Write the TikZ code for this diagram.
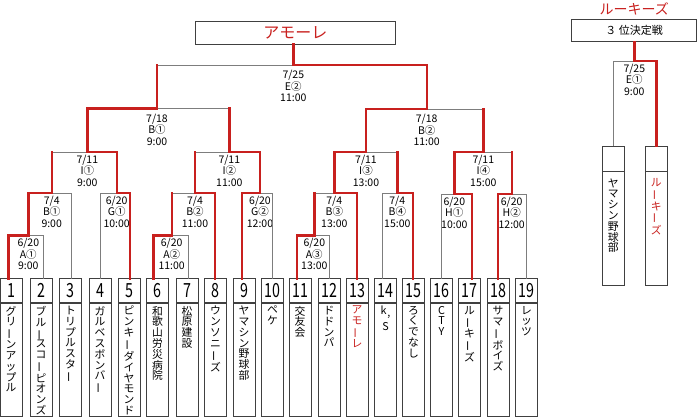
\documentclass[tikz,border=0pt]{standalone}
\usepackage{fontspec}
\setmainfont{Noto Sans CJK JP}
\usetikzlibrary{positioning}
\definecolor{wred}{RGB}{200,32,30}
\definecolor{lgray}{RGB}{125,125,125}
\newcommand{\cho}{\rotatebox[origin=c]{90}{ー}}

\begin{document}
\begin{tikzpicture}[x=1pt,y=-1pt,
  team/.style={draw=black!75,line width=.8pt,minimum width=22pt,minimum height=24pt,inner sep=0pt,font=\fontsize{15}{15}\selectfont},
  namebox/.style={draw=black!75,line width=.8pt,minimum width=22pt,minimum height=113.5pt,inner sep=0pt},
  vname/.style={align=center,inner sep=0pt,font=\fontsize{10.8}{10.8}\selectfont},
  lbl/.style={align=center,anchor=north,inner sep=2.5pt,font=\fontsize{10.5}{11.7}\selectfont},
  lblb/.style={lbl,inner ysep=5pt},
  win/.style={draw=wred,line width=2.4pt,line cap=rect},
  lose/.style={draw=lgray,line width=.9pt}]
  \useasboundingbox (0,0) rectangle (700,418);
  % teams
  \foreach \i/\x/\lx/\nm/\c in {
    1/11/8.3/{グ\\リ\\\cho\\ン\\ア\\ッ\\プ\\ル}/black,
    2/41/43.3/{ブ\\ル\\\cho\\ス\\コ\\\cho\\ピ\\オ\\ン\\ズ}/black,
    3/70.5/71.7/{ト\\リ\\プ\\ル\\ス\\タ\\\cho}/black,
    4/100/100/{ガ\\ル\\ベ\\ス\\ボ\\ン\\バ\\\cho}/black,
    5/129/130/{ピ\\ン\\キ\\\cho\\ダ\\イ\\ヤ\\モ\\ン\\ド}/black,
    6/157.5/153.3/{和\\歌\\山\\労\\災\\病\\院}/black,
    7/187/188.3/{松\\原\\建\\設}/black,
    8/215.5/215/{ウ\\ン\\ソ\\ニ\\\cho\\ズ}/black,
    9/244/241.7/{ヤ\\マ\\シ\\ン\\野\\球\\部}/black,
    10/272.5/272.7/{ペ\\ケ}/black,
    11/300/296.7/{交\\友\\会}/black,
    12/329/329.3/{ド\\ド\\ン\\パ}/black,
    13/357/356.7/{ア\\モ\\\cho\\レ}/wred,
    14/385.5/382.7/{k\hspace{1pt}\raisebox{-2pt}{,}\\[3pt]S}/black,
    15/413.5/412.7/{ろ\\く\\で\\な\\し}/black,
    16/441.5/441/{C\\T\\Y}/black,
    17/469.5/471.7/{ル\\\cho\\キ\\\cho\\ズ}/black,
    18/498/497.7/{サ\\マ\\\cho\\ボ\\イ\\ズ}/black,
    19/526.5/526.7/{レ\\ッ\\ツ}/black}{
    \node[team] (t\i) at (\x,290.5) {\scalebox{.95}[1.3]{\i}};
    \node[namebox,below=0pt of t\i] (nm\i) {};
    \node[vname,text=\c,below=3pt of t\i] (v\i) {\nm};
    \coordinate (p\i) at (\lx,278.5);
  }
  % champion and third place
  \node[draw=black!75,line width=.8pt,minimum width=200.7pt,minimum height=22.3pt,text=wred,font=\fontsize{16}{16}\selectfont] (champ) at (295.3,32.8) {アモーレ};
  \node[draw=black!75,line width=.8pt,minimum width=125pt,minimum height=22.4pt,font=\fontsize{11}{11}\selectfont] (third) at (634.2,30.5) {３ 位決定戦};
  \node[text=wred,font=\fontsize{14}{14}\selectfont] (thirdwin) at (634.3,8.5) {ルーキーズ};
  \node[team,minimum height=25pt] (q1) at (613.2,158.5) {};
  \node[namebox,minimum height=114pt,below=0pt of q1] (qn1) {};
  \node[vname,below=7pt of q1] (qv1) {ヤ\\マ\\シ\\ン\\野\\球\\部};
  \node[team,minimum height=25pt] (q2) at (656.3,158.5) {};
  \node[namebox,minimum height=114pt,below=0pt of q2] (qn2) {};
  \node[vname,text=wred,below=7pt of q2] (qv2) {ル\\\cho\\キ\\\cho\\ズ};
  % match labels
  \node[lbl] (A1) at (28.3,235.5) {6/20\\A①\\9:00};
  \node[lbl] (B1) at (51.7,193) {7/4\\B①\\9:00};
  \node[lbl] (G1) at (116.7,193) {6/20\\G①\\10:00};
  \node[lbl] (I1) at (87.3,152) {7/11\\I①\\9:00};
  \node[lbl] (A2) at (171.7,235.5) {6/20\\A②\\11:00};
  \node[lbl] (B2) at (195,193) {7/4\\B②\\11:00};
  \node[lbl] (G2) at (260,193) {6/20\\G②\\12:00};
  \node[lbl] (I2) at (229.3,152) {7/11\\I②\\11:00};
  \node[lblb] (S1) at (157,108.5) {7/18\\B①\\9:00};
  \node[lbl] (A3) at (314.3,235.5) {6/20\\A③\\13:00};
  \node[lbl] (B3) at (334.3,193) {7/4\\B③\\13:00};
  \node[lbl] (B4) at (397.3,193) {7/4\\B④\\15:00};
  \node[lbl] (I3) at (366,152) {7/11\\I③\\13:00};
  \node[lbl] (H1) at (454.3,194) {6/20\\H①\\10:00};
  \node[lbl] (H2) at (511.7,194) {6/20\\H②\\12:00};
  \node[lbl] (I4) at (483.3,152) {7/11\\I④\\15:00};
  \node[lblb] (S2) at (426.7,109) {7/18\\B②\\11:00};
  \node[lblb] (F) at (293.3,65) {7/25\\E②\\11:00};
  \node[lbl] (E1) at (634.3,61) {7/25\\E①\\9:00};
  % losing lines
  \draw[lose] (p2) |- (A1.north);
  \draw[lose] (p3) |- (B1.north);
  \draw[lose] (p4) |- (G1.north);
  \draw[lose] (B1.north |- I1.north) -- (I1.north);
  \draw[lose] (p7) |- (A2.north);
  \draw[lose] (A2.north |- B2.north) -- (B2.north);
  \draw[lose] (p10) |- (G2.north);
  \draw[lose] (B2.north |- I2.north) -- (I2.north);
  \draw[lose] (I2.north |- S1.north) -- (S1.north);
  \draw[lose] (p12) |- (A3.north);
  \draw[lose] (A3.north |- B3.north) -- (B3.north);
  \draw[lose] (p14) |- (B4.north);
  \draw[lose] (B4.north |- I3.north) -- (I3.north);
  \draw[lose] (p16) |- (H1.north);
  \draw[lose] (p19) |- (H2.north);
  \draw[lose] (H2.north |- I4.north) -- (I4.north);
  \draw[lose] (I4.north |- S2.north) -- (S2.north);
  \draw[lose] (S1.north |- F.north) -- (F.north);
  \draw[lose] (q1.north) |- (E1.north);
  % winning lines
  \draw[win] (p1) |- (A1.north);
  \draw[win] (A1.north) |- (B1.north);
  \draw[win] (B1.north) -- (B1.north |- I1.north);
  \draw[win] (p5) |- (G1.north);
  \draw[win] (G1.north) |- (I1.north);
  \draw[win] (I1.north) |- (S1.north);
  \draw[win] (p6) |- (A2.north);
  \draw[win] (A2.north) -- (A2.north |- B2.north);
  \draw[win] (p8) |- (B2.north);
  \draw[win] (B2.north) -- (B2.north |- I2.north);
  \draw[win] (p9) |- (G2.north);
  \draw[win] (G2.north) |- (I2.north);
  \draw[win] (I2.north) -- (I2.north |- S1.north);
  \draw[win] (S1.north) -- (S1.north |- F.north);
  \draw[win] (p11) |- (A3.north);
  \draw[win] (A3.north) -- (A3.north |- B3.north);
  \draw[win] (p13) |- (B3.north);
  \draw[win] (B3.north) |- (I3.north);
  \draw[win] (p15) |- (B4.north);
  \draw[win] (B4.north) -- (B4.north |- I3.north);
  \draw[win] (I3.north) |- (S2.north);
  \draw[win] (p17) |- (H1.north);
  \draw[win] (H1.north) |- (I4.north);
  \draw[win] (p18) |- (H2.north);
  \draw[win] (H2.north) -- (H2.north |- I4.north);
  \draw[win] (I4.north) -- (I4.north |- S2.north);
  \draw[win] (S2.north) |- (F.north);
  \draw[win] (F.north) -- (F.north |- champ.south);
  \draw[win] (q2.north) |- (E1.north);
  \draw[win] (E1.north) -- (E1.north |- third.south);
\end{tikzpicture}
\end{document}
